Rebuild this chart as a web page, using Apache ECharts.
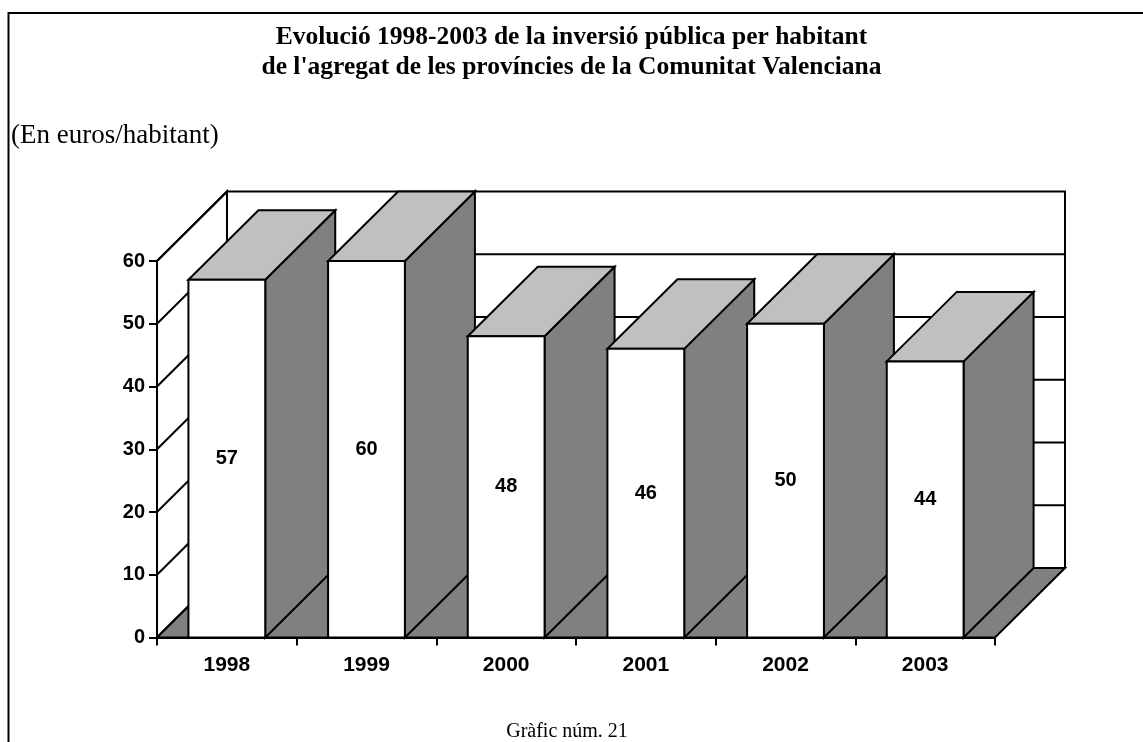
<!DOCTYPE html>
<html>
<head>
<meta charset="utf-8">
<script src="https://cdn.jsdelivr.net/npm/echarts@6/dist/echarts.min.js"></script>
<style>
html,body{margin:0;padding:0;background:#fff;}
#chart{width:1143px;height:742px;}
</style>
</head>
<body>
<div id="chart"></div>
<script>
const categories = ['1998', '1999', '2000', '2001', '2002', '2003'];
const values = [57, 60, 48, 46, 50, 44];
const yMin = 0, yMax = 60, yStep = 10;
const titleText = "Evolució 1998-2003 de la inversió pública per habitant\nde l'agregat de les províncies de la Comunitat Valenciana";
const unitText = '(En euros/habitant)';
const footerText = 'Gràfic núm. 21';

const DX = 70, DY = -69.5;
const BAR_FRAC = 0.55;
const LW = 2;
const serif = "'Liberation Serif', 'Times New Roman', serif";
const sans = "'Liberation Sans', Arial, sans-serif";

const chart = echarts.init(document.getElementById('chart'));

function boxRender(params, api) {
  const bw = api.size([1, 0])[0];
  const p0 = api.coord([0, yMin]);
  const pN = api.coord([categories.length - 1, yMin]);
  const xL = p0[0] - bw / 2;
  const xR = pN[0] + bw / 2;
  const y0 = p0[1];
  const yT = api.coord([0, yMax])[1];
  const children = [];
  // back wall
  children.push({type: 'rect', shape: {x: xL + DX, y: yT + DY, width: xR - xL, height: y0 - yT},
    style: {fill: '#fff', stroke: '#000', lineWidth: LW}});
  for (let v = yMin + yStep; v < yMax; v += yStep) {
    const y = api.coord([0, v])[1] + DY;
    children.push({type: 'line', shape: {x1: xL + DX, y1: y, x2: xR + DX, y2: y},
      style: {stroke: '#000', lineWidth: LW}});
  }
  // left wall
  children.push({type: 'polygon', shape: {points: [[xL, y0], [xL, yT], [xL + DX, yT + DY], [xL + DX, y0 + DY]]},
    style: {fill: '#fff', stroke: '#000', lineWidth: LW}});
  for (let v = yMin; v <= yMax; v += yStep) {
    const y = api.coord([0, v])[1];
    children.push({type: 'line', shape: {x1: xL, y1: y, x2: xL + DX, y2: y + DY},
      style: {stroke: '#000', lineWidth: LW}});
  }
  // floor
  children.push({type: 'polygon', shape: {points: [[xL, y0], [xR, y0], [xR + DX, y0 + DY], [xL + DX, y0 + DY]]},
    style: {fill: '#808080', stroke: '#000', lineWidth: LW, lineJoin: 'miter'}});
  return {type: 'group', children: children};
}

function barRender(params, api) {
  const idx = api.value(0);
  const val = api.value(1);
  const top = api.coord([idx, val]);
  const base = api.coord([idx, yMin]);
  const w = api.size([1, 0])[0] * BAR_FRAC;
  const x1 = top[0] - w / 2, x2 = top[0] + w / 2;
  const yt = top[1], yb = base[1];
  const st = {stroke: '#000', lineWidth: LW, lineJoin: 'miter'};
  return {type: 'group', children: [
    {type: 'polygon', shape: {points: [[x2, yb], [x2, yt], [x2 + DX, yt + DY], [x2 + DX, yb + DY]]},
      style: Object.assign({fill: '#808080'}, st)},
    {type: 'polygon', shape: {points: [[x1, yt], [x2, yt], [x2 + DX, yt + DY], [x1 + DX, yt + DY]]},
      style: Object.assign({fill: '#c0c0c0'}, st)},
    {type: 'rect', shape: {x: x1, y: yt, width: w, height: yb - yt},
      style: Object.assign({fill: '#fff'}, st)},
    {type: 'text', x: top[0], y: (yt + yb) / 2,
      style: {text: String(val), fill: '#000', font: 'bold 20px ' + sans, align: 'center', verticalAlign: 'middle'}}
  ]};
}

chart.setOption({
  animation: false,
  backgroundColor: '#fff',
  title: [
    {text: titleText, left: 'center', top: 22, padding: 0,
      textStyle: {fontFamily: serif, fontWeight: 'bold', fontSize: 25.5, lineHeight: 30, color: '#000'}},
    {text: unitText, left: 11, top: 121, padding: 0,
      textStyle: {fontFamily: serif, fontWeight: 'normal', fontSize: 27, lineHeight: 30, color: '#000'}},
    {text: footerText, left: 567, top: 720, textAlign: 'center', padding: 0,
      textStyle: {fontFamily: serif, fontWeight: 'normal', fontSize: 20, lineHeight: 24, color: '#000'}}
  ],
  graphic: [
    {type: 'rect', z: -10, silent: true,
      shape: {x: 8.5, y: 13, width: 1300, height: 900},
      style: {fill: 'none', stroke: '#000', lineWidth: 2}}
  ],
  grid: {left: 157, right: 148, top: 261, bottom: 104.5, containLabel: false},
  xAxis: {
    type: 'category', data: categories, boundaryGap: true, z: 10,
    axisLine: {show: true, lineStyle: {color: '#000', width: 2}},
    axisTick: {show: true, length: 8, lineStyle: {color: '#000', width: 2}},
    axisLabel: {color: '#000', fontFamily: sans, fontWeight: 'bold', fontSize: 21, margin: 17},
    splitLine: {show: false}
  },
  yAxis: {
    type: 'value', min: yMin, max: yMax, interval: yStep, z: 10,
    axisLine: {show: true, lineStyle: {color: '#000', width: 2}},
    axisTick: {show: true, length: 8, lineStyle: {color: '#000', width: 2}},
    axisLabel: {color: '#000', fontFamily: sans, fontWeight: 'bold', fontSize: 20, margin: 12},
    splitLine: {show: false}
  },
  series: [
    {type: 'custom', name: 'box', renderItem: boxRender, data: [[0, 0]], z: 1, silent: true,
      encode: {x: 0, y: 1}},
    {type: 'custom', name: 'Inversió per habitant', renderItem: barRender, z: 2,
      data: values.map((v, i) => [i, v]), encode: {x: 0, y: 1}}
  ]
});
</script>
</body>
</html>
